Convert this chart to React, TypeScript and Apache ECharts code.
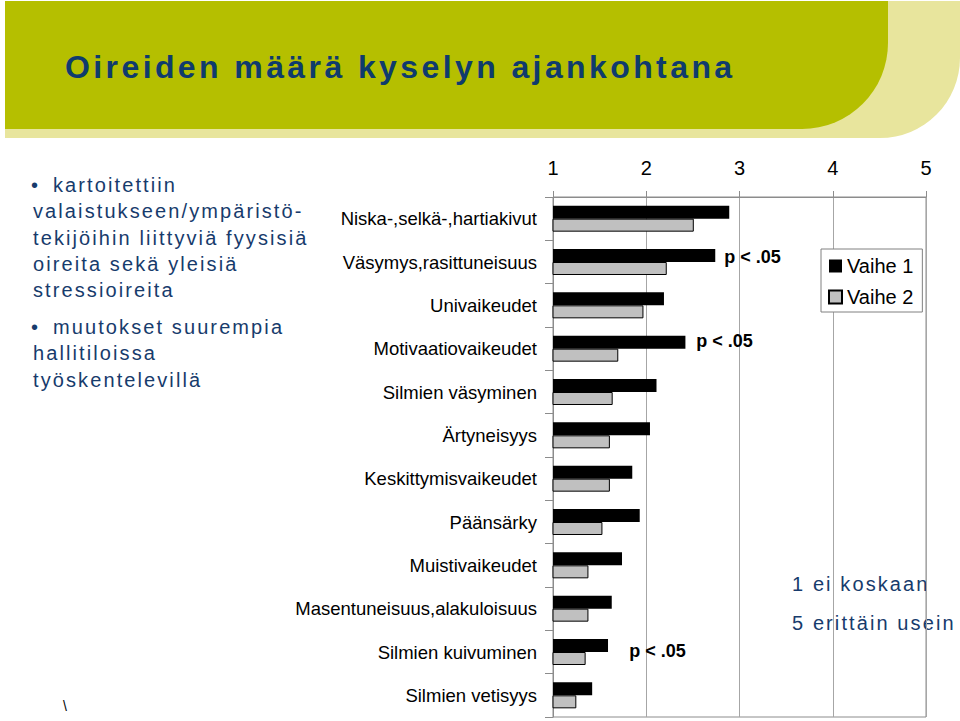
import React, { useEffect, useRef } from "react";
import * as echarts from "echarts";

const categories = [
  "Niska-,selkä-,hartiakivut",
  "Väsymys,rasittuneisuus",
  "Univaikeudet",
  "Motivaatiovaikeudet",
  "Silmien väsyminen",
  "Ärtyneisyys",
  "Keskittymisvaikeudet",
  "Päänsärky",
  "Muistivaikeudet",
  "Masentuneisuus,alakuloisuus",
  "Silmien kuivuminen",
  "Silmien vetisyys",
];
const vaihe1 = [2.89, 2.74, 2.19, 2.42, 2.11, 2.04, 1.85, 1.93, 1.74, 1.63, 1.59, 1.42];
const vaihe2 = [2.51, 2.22, 1.97, 1.7, 1.64, 1.61, 1.61, 1.53, 1.38, 1.38, 1.35, 1.25];
const seriesNames = ["Vaihe 1", "Vaihe 2"];
const significantCategories = [1, 3, 10];
const significanceLabel = "p < .05";

const title = "Oireiden määrä kyselyn ajankohtana";
const bulletLines = [
  "valaistukseen/ympäristö-",
  "tekijöihin liittyviä fyysisiä",
  "oireita sekä yleisiä",
  "stressioireita",
];
const bullet1First = "kartoitettiin";
const bullet2First = "muutokset suurempia";
const bullet2Lines = ["hallitiloissa", "työskentelevillä"];
const scaleNotes = ["1 ei koskaan", "5 erittäin usein"];

const FONT = "'Liberation Sans', Arial, Helvetica, sans-serif";
const NAVY = "#173b6c";

// annotation placement (x position in axis units, vertical offset px)
const sigPlacement = [
  { x: 3.14, dy: 1 },
  { x: 2.84, dy: -1 },
  { x: 2.12, dy: 5 },
];

const spacing: Record<string, number> = {};
spacing[title] = 3.4;
[bullet1First, bullet2First, ...bulletLines, ...bullet2Lines].forEach((t) => (spacing[t] = 2.1));
scaleNotes.forEach((t) => (spacing[t] = 2.1));

function applySpacing(root: HTMLElement | null) {
  if (!root) return;
  root.querySelectorAll("text").forEach((t) => {
    const s = spacing[t.textContent || ""];
    if (s != null) t.setAttribute("letter-spacing", String(s));
  });
}

function txt(x: number, y: number, text: string, size: number, extra: any = {}) {
  return {
    type: "text",
    x,
    y,
    silent: true,
    style: {
      text,
      fill: extra.fill || NAVY,
      fontSize: size,
      fontFamily: FONT,
      fontWeight: extra.fontWeight || "normal",
      align: "left",
      verticalAlign: "middle",
      textAlign: "left",
      textVerticalAlign: "middle",
    },
  };
}

export default function App() {
  const ref = useRef<HTMLDivElement>(null);
  useEffect(() => {
    const chart = echarts.init(ref.current!, null, { renderer: "svg" });
    const bulletYs = [211, 238, 264, 290];
    const option: any = {
      animation: false,
      backgroundColor: "#ffffff",
      textStyle: { fontFamily: FONT },
      grid: {
        left: 553,
        top: 197,
        width: 373,
        height: 520,
        show: true,
        borderColor: "#8c8c8c",
        borderWidth: 1,
        backgroundColor: "transparent",
      },
      legend: {
        data: seriesNames,
        orient: "vertical",
        left: 821,
        top: 249,
        itemWidth: 13,
        itemHeight: 13,
        itemGap: 11,
        padding: [7, 9, 5, 7],
        borderColor: "#808080",
        borderWidth: 1,
        backgroundColor: "#ffffff",
        icon: "rect",
        selectedMode: false,
        textStyle: { fontSize: 20, color: "#000", fontFamily: FONT },
      },
      xAxis: {
        type: "value",
        position: "top",
        min: 1,
        max: 5,
        interval: 1,
        axisLine: { show: true, lineStyle: { color: "#8c8c8c" } },
        axisTick: { show: true, length: 6, lineStyle: { color: "#8c8c8c" } },
        axisLabel: { fontSize: 20, color: "#000", margin: 19, fontFamily: FONT },
        splitLine: { show: true, lineStyle: { color: "#a6a6a6" } },
      },
      yAxis: {
        type: "category",
        inverse: true,
        data: categories,
        axisLine: { show: true, lineStyle: { color: "#8c8c8c" } },
        axisTick: { show: true, length: 8, lineStyle: { color: "#8c8c8c" } },
        axisLabel: { fontSize: 18.5, color: "#000", margin: 16, fontFamily: FONT },
        splitLine: { show: false },
      },
      series: [
        {
          name: seriesNames[0],
          type: "bar",
          data: vaihe1,
          barWidth: 13,
          barGap: "0%",
          itemStyle: { color: "#000000" },
          markPoint: {
            symbol: "rect",
            symbolSize: 1,
            itemStyle: { color: "rgba(0,0,0,0)" },
            label: {
              show: true,
              position: "inside",
              formatter: significanceLabel,
              fontSize: 18,
              fontWeight: "bold",
              color: "#000",
              fontFamily: FONT,
            },
            data: significantCategories.map((ci, i) => ({
              coord: [sigPlacement[i].x, categories[ci]],
              label: { offset: [0, sigPlacement[i].dy] },
            })),
          },
        },
        {
          name: seriesNames[1],
          type: "bar",
          data: vaihe2,
          barWidth: 13,
          barGap: "0%",
          itemStyle: { color: "#c0c0c0", borderColor: "#000000", borderWidth: 1 },
        },
      ],
      graphic: [
        {
          type: "rect",
          silent: true,
          z: -10,
          shape: { x: 5, y: 1, width: 955, height: 137, r: [0, 0, 80, 0] },
          style: { fill: "#e8e59d" },
        },
        {
          type: "rect",
          silent: true,
          z: -9,
          shape: { x: 5, y: 1, width: 883, height: 128, r: [0, 0, 86, 0] },
          style: { fill: "#b5bf00" },
        },
        txt(65, 67, title, 32, { fontWeight: "bold", fill: "#0f3b6d" }),
        txt(31, 185, "•", 20),
        txt(53, 185, bullet1First, 20),
        ...bulletLines.map((l, i) => txt(33, bulletYs[i], l, 20)),
        txt(31, 327, "•", 20),
        txt(53, 327, bullet2First, 20),
        txt(33, 353, bullet2Lines[0], 20),
        txt(33, 380, bullet2Lines[1], 20),
        txt(792, 584, scaleNotes[0], 20),
        txt(792, 623, scaleNotes[1], 20),
        txt(63, 706, "\\", 14, { fill: "#000" }),
      ],
    };
    chart.setOption(option);
    applySpacing(ref.current);
    const onFinished = () => applySpacing(ref.current);
    chart.on("finished", onFinished);
    const raf = requestAnimationFrame(() => applySpacing(ref.current));
    return () => {
      cancelAnimationFrame(raf);
      chart.off("finished", onFinished);
      chart.dispose();
    };
  }, []);
  return (
    <div
      ref={ref}
      style={{ position: "absolute", left: 0, top: 0, width: 960, height: 721 }}
    />
  );
}
